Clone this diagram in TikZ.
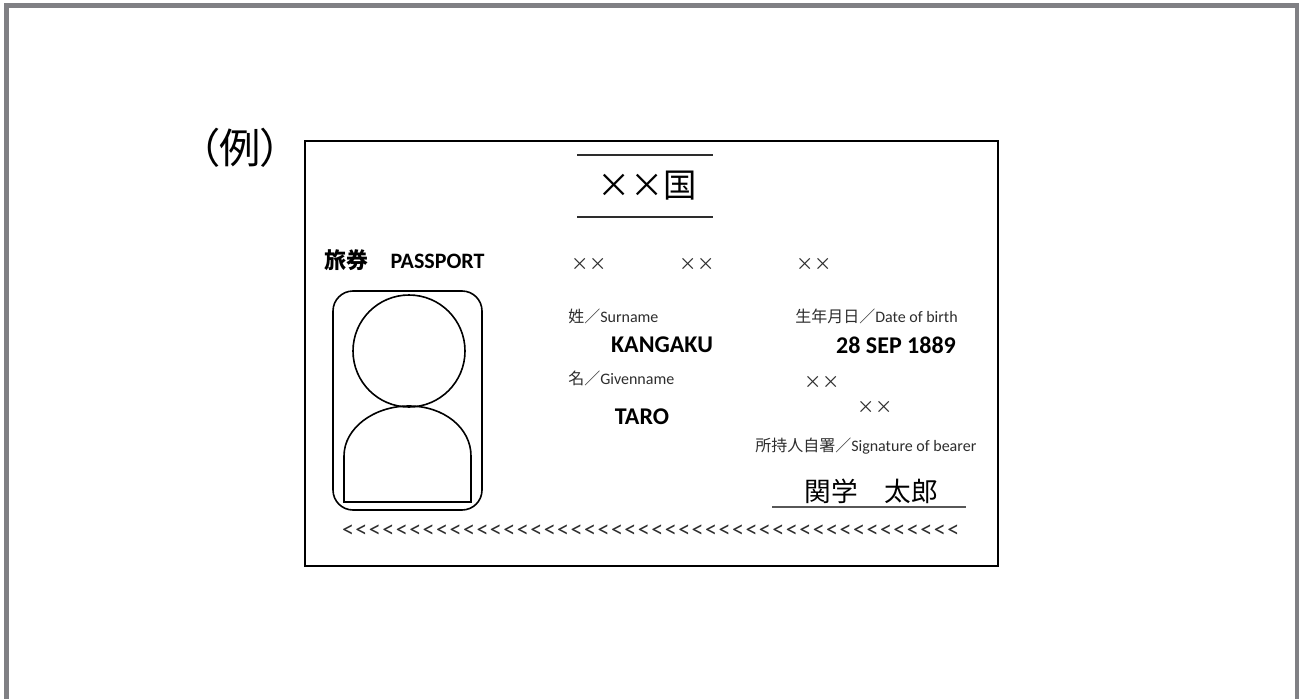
\documentclass[tikz,border=0pt]{standalone}
\usepackage{fontspec}
\setmainfont{Carlito}
\newfontfamily\jp{Noto Sans CJK JP}
\newfontfamily\jpp[CharacterWidth=AlternateProportional]{Noto Sans CJK JP}
\usepackage{xcolor}

\definecolor{moldura}{RGB}{128,128,132}
\definecolor{texto}{RGB}{45,45,45}

\tikzset{
  rotulo/.style={font=\fontsize{12}{14}\selectfont, text=texto, inner sep=0pt, anchor=west},
  dado/.style={font=\bfseries\fontsize{18}{21}\selectfont, inner sep=0pt},
  xis/.style={font=\jp\fontsize{13}{15}\selectfont, text=texto, inner sep=0pt},
  linha/.style={line width=1.2pt},
}

\begin{document}
\begin{tikzpicture}[x=0.75pt,y=-0.75pt]
\useasboundingbox (0,0) rectangle (1299,699);

% Moldura externa
\draw[moldura, line width=3.75pt] (6.5,699) -- (6.5,5.5) -- (1297.5,5.5) -- (1297.5,699);

% Titulo do exemplo
\node[inner sep=0pt, font=\jpp\fontsize{31}{34}\selectfont] (exemplo) at (240,148) {（例）};

% Cartao do passaporte
\draw[line width=1.8pt] (305,141) rectangle (998,566);

% Nome do pais
\coordinate (L1a) at (577,155);
\coordinate (L1b) at (713,155);
\coordinate (L2a) at (577,217);
\coordinate (L2b) at (713,217);
\draw[texto, line width=0.9pt] (L1a) -- (L1b);
\draw[texto, line width=0.9pt] (L2a) -- (L2b);
\node[inner sep=0pt, font=\jp\fontsize{25}{28}\selectfont] (pais) at (647,186) {××国};

% Cabecalho
\node[inner sep=0pt, font=\bfseries\fontsize{16.5}{19}\selectfont] (titulo) at (404.5,260) {{\jp 旅券　}PASSPORT};

% Foto
\draw[linha, rounded corners=15pt] (333,291) rectangle (482,510);
\draw[linha] (409,351) circle (56);
\draw[linha] (344,502) -- (344,456) .. controls (344,428) and (374,406) .. (409,406)
  .. controls (444,406) and (471,428) .. (471,456) -- (471,502) -- cycle;

% Campos
\node[xis] (xx1) at (589,264) {××};
\node[xis] (xx2) at (697,264) {××};
\node[xis] (xx3) at (814,264) {××};

\node[rotulo] (sobrenome) at (568,316) {{\jp 姓／}Surname};
\node[dado] (kangaku) at (662,345) {KANGAKU};
\node[rotulo] (nome) at (568,378) {{\jp 名／}Givenname};
\node[dado] (taro) at (642,417) {TARO};

\node[rotulo] (nascimento) at (795,316) {{\jp 生年月日／}Date of birth};
\node[dado] (data) at (896,345) {28 SEP 1889};
\node[xis] (xx4) at (822,382) {××};
\node[xis] (xx5) at (875,407) {××};

% Assinatura
\node[rotulo] (assinatura) at (755,446) {{\jp 所持人自署／}Signature of bearer};
\node[inner sep=0pt, font=\jp\fontsize{20}{24}\selectfont] (nomejp) at (871,491) {関学　太郎};
\coordinate (S1) at (772,507);
\coordinate (S2) at (966,507);
\draw[texto!80, line width=1.1pt] (S1) -- (S2);

% Linha de leitura
\foreach \i in {0,...,45}
  \node[inner sep=0pt, text=texto, font=\fontsize{18}{20}\selectfont] (mrz\i) at (348+13.45*\i,531) {<};

\end{tikzpicture}
\end{document}
